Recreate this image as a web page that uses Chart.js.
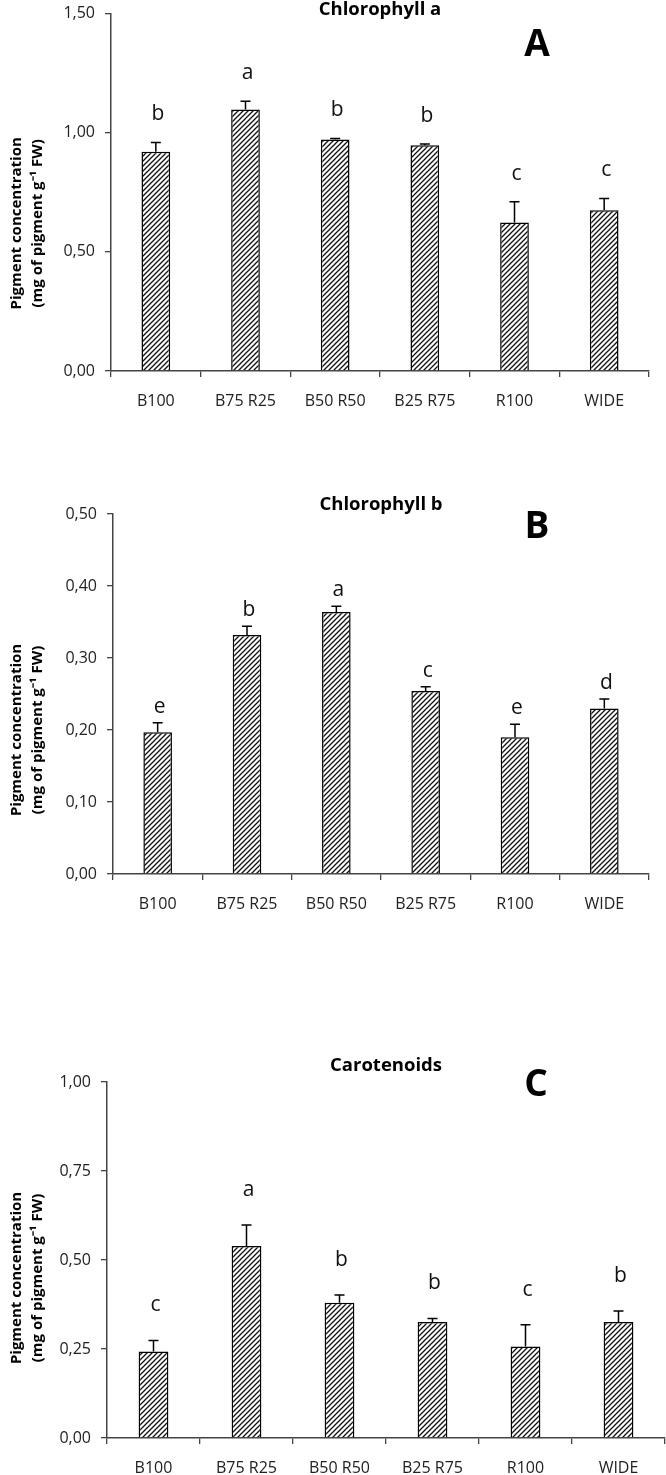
<!DOCTYPE html>
<html>
<head>
<meta charset="utf-8">
<script src="https://cdn.jsdelivr.net/npm/chart.js@4.4.0/dist/chart.umd.min.js"></script>
<style>
  body { margin: 0; background: #fff; overflow: hidden; }
  .panel { position: absolute; left: 0; width: 666px; }
</style>
</head>
<body>
<div class="panel" style="top:-6px;height:440px"><canvas id="chartA"></canvas></div>
<div class="panel" style="top:440px;height:490px"><canvas id="chartB"></canvas></div>
<div class="panel" style="top:930px;height:545px"><canvas id="chartC"></canvas></div>
<script>
var treatments = ['B100', 'B75 R25', 'B50 R50', 'B25 R75', 'R100', 'WIDE'];

// chlorophyll a
var chlA = [0.920, 1.097, 0.972, 0.947, 0.623, 0.675];
var chlAErr = [0.039, 0.035, 0.004, 0.006, 0.087, 0.049];
var chlALetters = ['b', 'a', 'b', 'b', 'c', 'c'];
var chlATicks = [0, 0.5, 1.0, 1.5];

// chlorophyll b
var chlB = [0.197, 0.332, 0.364, 0.254, 0.190, 0.230];
var chlBErr = [0.013, 0.012, 0.008, 0.006, 0.018, 0.013];
var chlBLetters = ['e', 'b', 'a', 'c', 'e', 'd'];
var chlBTicks = [0, 0.1, 0.2, 0.3, 0.4, 0.5];

// carotenoids
var carot = [0.243, 0.539, 0.380, 0.326, 0.257, 0.326];
var carotErr = [0.031, 0.059, 0.022, 0.010, 0.061, 0.031];
var carotLetters = ['c', 'a', 'b', 'b', 'c', 'b'];
var carotTicks = [0, 0.25, 0.5, 0.75, 1.0];

var FONT = "'Open Sans', 'Liberation Sans', sans-serif";

// diagonal hatch fill like the excel bars
function makeHatch() {
  var c = document.createElement('canvas');
  c.width = 5; c.height = 5;
  var g = c.getContext('2d');
  g.fillStyle = '#fff';
  g.fillRect(0, 0, 5, 5);
  g.strokeStyle = '#111';
  g.lineWidth = 1.3;
  g.beginPath();
  g.moveTo(0, 5); g.lineTo(5, 0);
  g.moveTo(-1, 1); g.lineTo(1, -1);
  g.moveTo(4, 6); g.lineTo(6, 4);
  g.stroke();
  return g.createPattern(c, 'repeat');
}
var hatch = makeHatch();

// error bars, letters, titles
var marksPlugin = {
  id: 'marks',
  afterDatasetsDraw: function (chart, args, opts) {
    var ctx = chart.ctx;
    var y = chart.scales.y;
    var area = chart.chartArea;
    var meta = chart.getDatasetMeta(0);
    ctx.save();
    ctx.strokeStyle = '#000';
    ctx.lineWidth = 1.5;
    opts.values.forEach(function (v, i) {
      var bar = meta.data[i];
      var top = y.getPixelForValue(v + opts.errors[i]);
      ctx.beginPath();
      ctx.moveTo(bar.x, bar.y);
      ctx.lineTo(bar.x, top);
      ctx.moveTo(bar.x - 5, top);
      ctx.lineTo(bar.x + 5, top);
      ctx.stroke();
      ctx.fillStyle = '#111';
      ctx.font = '21px ' + FONT;
      ctx.textAlign = 'center';
      ctx.textBaseline = 'middle';
      ctx.fillText(opts.letters[i], bar.x + 2, top - opts.letterGap);
    });

    var cx = (area.left + area.right) / 2;
    ctx.fillStyle = '#000';
    ctx.font = 'bold 18.5px ' + FONT;
    ctx.fillText(opts.title, cx, opts.titleY);
    ctx.font = 'bold 37px ' + FONT;
    ctx.fillText(opts.panel, opts.panelX, opts.panelY);

    // y axis title, two lines
    var my = (area.top + area.bottom) / 2 + opts.yTitleShift;
    ctx.font = 'bold 15px ' + FONT;
    ctx.translate(17, my);
    ctx.rotate(-Math.PI / 2);
    ctx.fillText('Pigment concentration', 0, 0);
    ctx.fillText('(mg of pigment g\u207B\u00B9 FW)', 0, 21);
    ctx.restore();
  }
};

function makeChart(id, cfg) {
  var ctx = document.getElementById(id).getContext('2d');
  var ticks = cfg.ticks;
  return new Chart(ctx, {
    type: 'bar',
    data: {
      labels: treatments,
      datasets: [{
        data: cfg.values,
        backgroundColor: hatch,
        borderColor: '#000',
        borderWidth: 1.5,
        barPercentage: 0.32,
        categoryPercentage: 1
      }]
    },
    options: {
      responsive: true,
      maintainAspectRatio: false,
      animation: false,
      layout: {
        padding: { top: cfg.top, right: 666 - cfg.right, bottom: cfg.padBottom, left: 0 }
      },
      plugins: {
        legend: { display: false },
        tooltip: { enabled: false },
        marks: {
          values: cfg.values, errors: cfg.errors, letters: cfg.letters,
          letterGap: cfg.letterGap, title: cfg.title, titleY: cfg.titleY,
          panel: cfg.panel, panelX: cfg.panelX, panelY: cfg.panelY,
          yTitleShift: cfg.yTitleShift
        }
      },
      scales: {
        x: {
          grid: { offset: true, drawOnChartArea: false, tickLength: 6, color: '#444', lineWidth: 1.3 },
          border: { color: '#444', width: 1.5 },
          ticks: { padding: 15, color: '#222', font: { family: FONT, size: 16 }, maxRotation: 0 },
          afterFit: function (s) { s.height = 37; }
        },
        y: {
          min: ticks[0],
          max: ticks[ticks.length - 1],
          afterBuildTicks: function (s) {
            s.ticks = ticks.map(function (v) { return { value: v }; });
          },
          grid: { drawOnChartArea: false, tickLength: 6, color: '#444', lineWidth: 1.3 },
          border: { color: '#444', width: 1.5 },
          ticks: {
            padding: 10, color: '#222', font: { family: FONT, size: 16 },
            callback: function (v) { return v.toFixed(2).replace('.', ','); }
          },
          afterFit: function (s) { s.width = cfg.left; }
        }
      }
    },
    plugins: [marksPlugin]
  });
}

// panel A canvas starts 6px above the page so its plot top lands at y=12
makeChart('chartA', {
  values: chlA, errors: chlAErr, letters: chlALetters, ticks: chlATicks,
  left: 111, right: 649, top: 18, padBottom: 26,
  letterGap: 28, title: 'Chlorophyll a', titleY: 16,
  panel: 'A', panelX: 537, panelY: 51, yTitleShift: 31
});
makeChart('chartB', {
  values: chlB, errors: chlBErr, letters: chlBLetters, ticks: chlBTicks,
  left: 113, right: 649, top: 74, padBottom: 19,
  letterGap: 16, title: 'Chlorophyll b', titleY: 65,
  panel: 'B', panelX: 537, panelY: 87, yTitleShift: 36
});
makeChart('chartC', {
  values: carot, errors: carotErr, letters: carotLetters, ticks: carotTicks,
  left: 107, right: 665, top: 152, padBottom: 0,
  letterGap: 35, title: 'Carotenoids', titleY: 136,
  panel: 'C', panelX: 536, panelY: 155, yTitleShift: 18
});
</script>
</body>
</html>
